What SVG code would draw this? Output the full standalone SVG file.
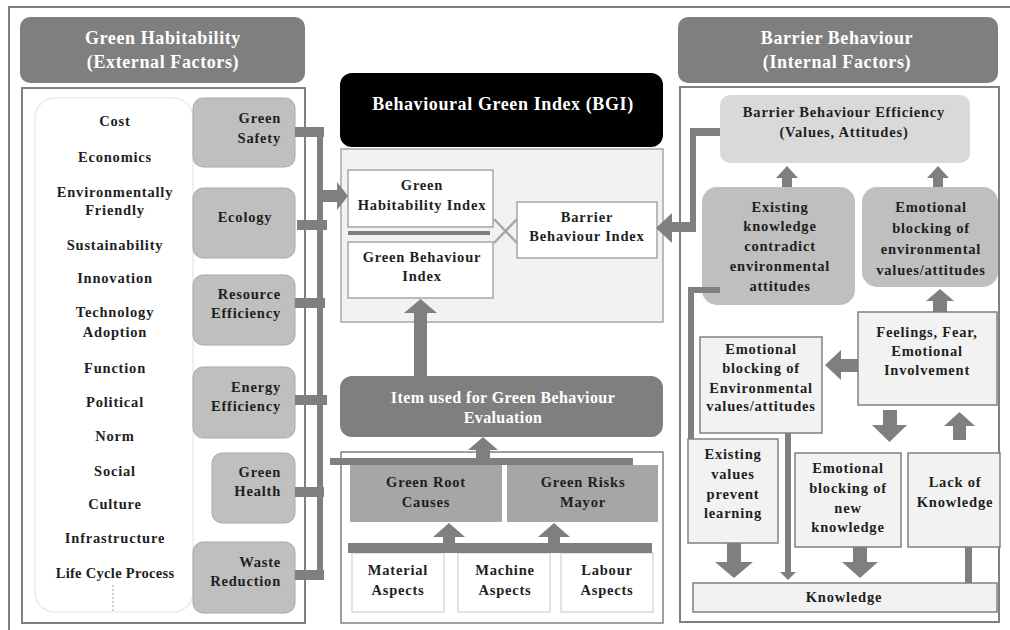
<svg xmlns="http://www.w3.org/2000/svg" width="1010" height="630" viewBox="0 0 1010 630">
<style>
text{font-family:"Liberation Serif","Times New Roman",serif;font-weight:bold;font-size:14.5px;letter-spacing:0.8px;fill:#1e1e1e;text-anchor:middle}
text.h{font-size:18px;letter-spacing:0.6px;fill:#ffffff}
text.i{font-size:16px;letter-spacing:0.4px;fill:#ffffff}
text.e{text-anchor:end}
.hdr{fill:#7f7f7f}
.frame{fill:#ffffff;stroke:#808080;stroke-width:2}
.gbox{fill:#bfbfbf;stroke:#a9a9a9;stroke-width:1}
.wbox{fill:#ffffff;stroke:#a6a6a6;stroke-width:1.5}
.lbox{fill:#f2f2f2;stroke:#808080;stroke-width:1.5}
.c{fill:#7f7f7f}
</style>
<rect width="1010" height="630" fill="#ffffff"/>
<path d="M9 630 V7 H1010" fill="none" stroke="#808080" stroke-width="2"/>

<!-- Left side -->
<g id="green-habitability-header">
<rect class="hdr" x="20" y="17" width="285" height="66" rx="10"/>
<text class="h" x="163" y="44">Green Habitability</text>
<text class="h" x="163" y="68">(External Factors)</text>
</g>
<g id="green-habitability-panel">
<rect class="frame" x="22" y="88" width="283" height="535"/>
</g>
<g id="external-factor-list">
<rect x="35" y="98" width="158" height="514" rx="20" fill="#ffffff" stroke="#ebebeb" stroke-width="1.5"/>
<text x="115" y="126">Cost</text>
<text x="115" y="162">Economics</text>
<text x="115" y="197">Environmentally</text>
<text x="115" y="215">Friendly</text>
<text x="115" y="250">Sustainability</text>
<text x="115" y="283">Innovation</text>
<text x="115" y="317">Technology</text>
<text x="115" y="337">Adoption</text>
<text x="115" y="373">Function</text>
<text x="115" y="407">Political</text>
<text x="115" y="441">Norm</text>
<text x="115" y="476">Social</text>
<text x="115" y="509">Culture</text>
<text x="115" y="543">Infrastructure</text>
<text x="115" y="578" style="letter-spacing:0.3px">Life Cycle Process</text>
<line x1="113" y1="585" x2="113" y2="612" stroke="#9a9a9a" stroke-width="1" stroke-dasharray="2,2"/>
</g>
<g id="green-safety">
<rect class="gbox" x="193" y="98" width="102" height="69" rx="10"/>
<text class="e" x="281" y="123">Green</text>
<text class="e" x="281" y="143">Safety</text>
</g>
<g id="ecology">
<rect class="gbox" x="193" y="188" width="102" height="70" rx="10"/>
<text x="245" y="222">Ecology</text>
</g>
<g id="resource-efficiency">
<rect class="gbox" x="193" y="275" width="102" height="70" rx="10"/>
<text class="e" x="281" y="299">Resource</text>
<text class="e" x="281" y="318">Efficiency</text>
</g>
<g id="energy-efficiency">
<rect class="gbox" x="193" y="367" width="102" height="71" rx="10"/>
<text class="e" x="281" y="392">Energy</text>
<text class="e" x="281" y="411">Efficiency</text>
</g>
<g id="green-health">
<rect class="gbox" x="212" y="453" width="83" height="70" rx="10"/>
<text class="e" x="281" y="477">Green</text>
<text class="e" x="281" y="496">Health</text>
</g>
<g id="waste-reduction">
<rect class="gbox" x="193" y="542" width="102" height="71" rx="10"/>
<text class="e" x="281" y="567">Waste</text>
<text class="e" x="281" y="586">Reduction</text>
</g>

<!-- Center -->
<g id="bgi-header">
<rect x="340" y="73" width="323" height="74" rx="12" fill="#000000"/>
<text class="h" x="503" y="110">Behavioural Green Index (BGI)</text>
</g>
<g id="bgi-panel">
<rect x="341" y="149" width="322" height="173" fill="#f2f2f2" stroke="#a6a6a6" stroke-width="1.5"/>
</g>
<g id="green-habitability-index">
<rect class="wbox" x="348" y="170" width="145" height="57"/>
<text x="422" y="190">Green</text>
<text x="422" y="210">Habitability Index</text>
</g>
<g id="green-behaviour-index">
<rect class="wbox" x="348" y="242" width="145" height="56"/>
<text x="422" y="262">Green Behaviour</text>
<text x="422" y="281">Index</text>
</g>
<g id="barrier-behaviour-index">
<rect class="wbox" x="517" y="202" width="140" height="56"/>
<text x="587" y="222">Barrier</text>
<text x="587" y="241">Behaviour Index</text>
</g>
<g id="item-green-behaviour">
<rect class="hdr" x="340" y="376" width="323" height="61" rx="12"/>
<text class="i" x="503" y="403">Item used for Green Behaviour</text>
<text class="i" x="503" y="423">Evaluation</text>
</g>
<g id="item-panel">
<rect x="341" y="452" width="322" height="171" fill="#ffffff" stroke="#808080" stroke-width="1.5"/>
</g>
<g id="green-root-causes">
<rect x="350" y="465" width="152" height="57" fill="#a6a6a6"/>
<text x="426" y="487">Green Root</text>
<text x="426" y="507">Causes</text>
</g>
<g id="green-risks-mayor">
<rect x="507" y="465" width="151" height="57" fill="#a6a6a6"/>
<text x="583" y="487">Green Risks</text>
<text x="583" y="507">Mayor</text>
</g>
<g id="material-aspects">
<rect x="352" y="553" width="92" height="59" fill="#ffffff" stroke="#d9d9d9" stroke-width="1.5"/>
<text x="398" y="575">Material</text>
<text x="398" y="595">Aspects</text>
</g>
<g id="machine-aspects">
<rect x="458" y="553" width="92" height="59" fill="#ffffff" stroke="#d9d9d9" stroke-width="1.5"/>
<text x="505" y="575">Machine</text>
<text x="505" y="595">Aspects</text>
</g>
<g id="labour-aspects">
<rect x="561" y="553" width="92" height="59" fill="#ffffff" stroke="#d9d9d9" stroke-width="1.5"/>
<text x="607" y="575">Labour</text>
<text x="607" y="595">Aspects</text>
</g>

<!-- Right side -->
<g id="barrier-behaviour-header">
<rect class="hdr" x="678" y="17" width="320" height="66" rx="10"/>
<text class="h" x="837" y="44">Barrier Behaviour</text>
<text class="h" x="837" y="68">(Internal Factors)</text>
</g>
<g id="barrier-behaviour-panel">
<rect class="frame" x="680" y="87" width="319" height="535"/>
</g>
<g id="barrier-behaviour-efficiency">
<rect x="720" y="95" width="250" height="68" rx="10" fill="#d9d9d9"/>
<text x="844" y="117">Barrier Behaviour Efficiency</text>
<text x="844" y="137">(Values, Attitudes)</text>
</g>
<g id="existing-knowledge-contradict">
<rect x="702" y="187" width="153" height="118" rx="15" fill="#bfbfbf"/>
<text x="780" y="212">Existing</text>
<text x="780" y="231">knowledge</text>
<text x="780" y="251">contradict</text>
<text x="780" y="271">environmental</text>
<text x="780" y="291">attitudes</text>
</g>
<g id="emotional-blocking-values">
<rect x="862" y="187" width="136" height="100" rx="15" fill="#bfbfbf"/>
<text x="931" y="212">Emotional</text>
<text x="931" y="233">blocking of</text>
<text x="931" y="254">environmental</text>
<text x="931" y="275">values/attitudes</text>
</g>
<g id="feelings-fear">
<rect class="lbox" x="858" y="312" width="139" height="93"/>
<text x="927" y="337">Feelings, Fear,</text>
<text x="927" y="356">Emotional</text>
<text x="927" y="375">Involvement</text>
</g>
<g id="emotional-blocking-environmental">
<rect class="lbox" x="700" y="337" width="122" height="96"/>
<text x="761" y="354">Emotional</text>
<text x="761" y="373">blocking of</text>
<text x="761" y="393">Environmental</text>
<text x="761" y="411">values/attitudes</text>
</g>
<g id="existing-values-prevent">
<rect class="lbox" x="688" y="439" width="90" height="104"/>
<text x="733" y="459">Existing</text>
<text x="733" y="479">values</text>
<text x="733" y="499">prevent</text>
<text x="733" y="518">learning</text>
</g>
<g id="emotional-blocking-new-knowledge">
<rect class="lbox" x="795" y="453" width="106" height="94"/>
<text x="848" y="473">Emotional</text>
<text x="848" y="493">blocking of</text>
<text x="848" y="513">new</text>
<text x="848" y="532">knowledge</text>
</g>
<g id="lack-of-knowledge">
<rect class="lbox" x="908" y="453" width="92" height="94"/>
<text x="955" y="487">Lack of</text>
<text x="955" y="507">Knowledge</text>
</g>
<g id="knowledge">
<rect class="lbox" x="693" y="583" width="304" height="29"/>
<text x="844" y="602">Knowledge</text>
</g>

<!-- Connectors -->
<g id="connectors" class="c">
<!-- left collector -->
<rect x="317" y="127" width="6" height="453"/>
<rect x="295" y="127" width="29" height="10"/>
<rect x="297" y="220" width="30" height="10"/>
<rect x="295" y="298" width="30" height="10"/>
<rect x="295" y="395" width="32" height="10"/>
<rect x="295" y="487" width="29" height="10"/>
<rect x="295" y="570" width="29" height="10"/>
<rect x="320" y="190" width="18" height="12"/>
<polygon points="337,182 348,196 337,210"/>
<!-- center -->
<rect x="348" y="231" width="142" height="4"/>
<line x1="494" y1="219" x2="517" y2="243" stroke="#a6a6a6" stroke-width="2.5"/>
<line x1="494" y1="243" x2="517" y2="219" stroke="#a6a6a6" stroke-width="2.5"/>
<rect x="414" y="312" width="13" height="64"/>
<polygon points="404,313 420.5,299 437,313"/>
<rect x="330" y="458" width="303" height="7"/>
<rect x="476" y="449" width="14" height="10"/>
<polygon points="468,450 483,437 498,450"/>
<rect x="348" y="543" width="304" height="10"/>
<rect x="443" y="536" width="12" height="8"/>
<polygon points="433,537 449,523 465,537"/>
<rect x="548" y="536" width="12" height="8"/>
<polygon points="538,537 554,523 570,537"/>
<!-- right -->
<rect x="690" y="128" width="30" height="8"/>
<rect x="690" y="128" width="6" height="104"/>
<rect x="671" y="222" width="25" height="10"/>
<polygon points="672,213 656,228 672,243"/>
<rect x="688" y="287" width="32" height="6"/>
<rect x="688" y="287" width="6" height="152"/>
<rect x="782" y="176" width="10" height="11"/>
<polygon points="776,178 787,166 798,178"/>
<rect x="933" y="176" width="10" height="11"/>
<polygon points="927,178 938,166 949,178"/>
<rect x="933" y="299" width="14" height="13"/>
<polygon points="926,301 940,289 954,301"/>
<rect x="840" y="359" width="18" height="13"/>
<polygon points="841,350 825,365 841,380"/>
<rect x="883" y="410" width="14" height="16"/>
<polygon points="872,425 907,425 889.5,442"/>
<rect x="953" y="424" width="13" height="16"/>
<polygon points="944,426 959.5,412 975,426"/>
<rect x="727" y="543" width="14" height="20"/>
<polygon points="715,562 753,562 734,578"/>
<rect x="785" y="433" width="6" height="140"/>
<polygon points="780,572 796,572 788,580"/>
<rect x="853" y="547" width="14" height="16"/>
<polygon points="842,562 878,562 860,578"/>
<rect x="965" y="547" width="7" height="36"/>
</g>
</svg>
